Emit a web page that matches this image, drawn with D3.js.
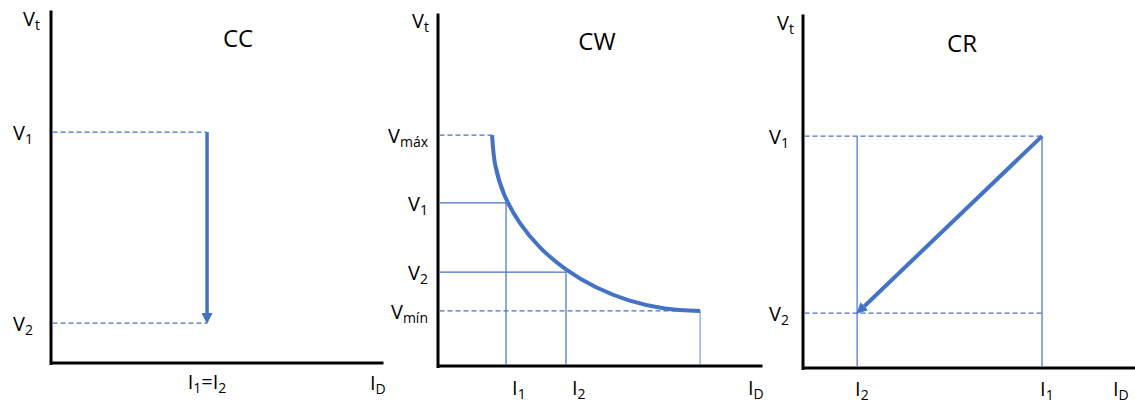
<!DOCTYPE html>
<html><head><meta charset="utf-8">
<script src="https://cdn.jsdelivr.net/npm/d3@7"></script>
<style>
body{margin:0;background:#fff}
svg{display:block}
text{font-family:'Open Sans',sans-serif;fill:#000}
</style>
</head><body>
<svg id="c" width="1135" height="403"></svg>
<script>
// ---------------- data (abstract units 0..100) ----------------
const titles = ["CC", "CW", "CR"];

// CC panel
const ccLevels = [65.4, 11.3];                 // V1, V2
const ccLevelLabels = [["V","1"], ["V","2"]];
const ccCurrent = 47;                          // I1 = I2
const ccCurrentLabel = ["I","1","=I","2"];

// CW panel
const cwLevels = [65.4, 46.2, 26.6, 15.6];     // Vmáx, V1, V2, Vmín
const cwLevelLabels = [["V","máx"], ["V","1"], ["V","2"], ["V","mín"]];
const cwCurrents = [21.0, 39.5];               // I1, I2
const cwCurrentLabels = [["I","1"], ["I","2"]];
const cwCurveI = [16.7, 17.7, 20.5, 25.3, 31.7, 39.6, 48.8, 58.9, 70.0, 80.9];
const cwCurveV = [65.4, 56.8, 48.4, 40.5, 33.4, 27.3, 22.3, 18.6, 16.3, 15.6];

// CR panel
const crLevels = [65.5, 15.5];                 // V1, V2
const crLevelLabels = [["V","1"], ["V","2"]];
const crCurrents = [72, 16.3];                 // I1, I2
const crCurrentLabels = [["I","1"], ["I","2"]];

const axisLabels = { y: ["V","t"], x: ["I","D"] };

// ---------------- drawing ----------------
const BLUE = "#4472C4";
const svg = d3.select("#c");

const defs = svg.append("defs");
defs.append("marker").attr("id","ah")
  .attr("viewBox","0 0 10 10").attr("refX",0).attr("refY",5)
  .attr("markerUnits","userSpaceOnUse").attr("markerWidth",11).attr("markerHeight",11)
  .attr("orient","auto")
  .append("path").attr("d","M0,0L10,5L0,10z").attr("fill",BLUE);

function label(g, x, y, parts, anchor, size, subSize) {
  const t = g.append("text").attr("x", x).attr("y", y)
    .attr("text-anchor", anchor).style("font-size", size + "px");
  parts.forEach((p, i) => {
    const sub = i % 2 === 1;
    const ts = t.append("tspan").text(p).style("font-size", (sub ? subSize : size) + "px");
    if (i > 0) ts.attr("dy", sub ? 4 : -4);
  });
  return t;
}

function panel(cfg) {
  const g = svg.append("g");
  const x = d3.scaleLinear().domain([0,100]).range([cfg.x0, cfg.x1]);
  const y = d3.scaleLinear().domain([0,100]).range([cfg.y0, cfg.y1]);
  g.append("g").attr("transform", `translate(${cfg.x0 - 0.5},0)`)
    .call(d3.axisLeft(y.copy().range([cfg.y0 + 1.5, cfg.y1])).tickValues([]).tickSizeOuter(0));
  g.append("g").attr("transform", `translate(0,${cfg.y0 - 0.5})`)
    .call(d3.axisBottom(x.copy().range([cfg.x0 - 1.5, cfg.x1])).tickValues([]).tickSizeOuter(0));
  g.selectAll(".domain").attr("stroke","#000").attr("stroke-width",3);
  label(g, cfg.vtX, cfg.vtY, axisLabels.y, "start", 20, 14);
  label(g, cfg.idX, cfg.y0 + cfg.xlDy, axisLabels.x, "start", 20, 14);
  g.append("text").attr("x", cfg.titleX).attr("y", cfg.titleY)
    .attr("text-anchor","middle").style("font-size","24px").text(cfg.title);
  return {g, x, y};
}

function dashed(g, x1, y1, x2, y2) {
  g.append("line").attr("x1",x1).attr("y1",y1).attr("x2",x2).attr("y2",y2)
    .attr("stroke",BLUE).attr("stroke-width",1.2).attr("stroke-dasharray","5,3");
}
function solid(g, x1, y1, x2, y2, op) {
  g.append("line").attr("x1",x1).attr("y1",y1).attr("x2",x2).attr("y2",y2)
    .attr("stroke",BLUE).attr("stroke-width",1.2).attr("opacity", op || 1);
}
function arrow(g, xa, ya, xb, yb, w) {
  const dx = xb - xa, dy = yb - ya, L = Math.hypot(dx, dy);
  const ex = xb - dx / L * 10, ey = yb - dy / L * 10;
  g.append("line").attr("x1",xa).attr("y1",ya).attr("x2",ex).attr("y2",ey)
    .attr("stroke",BLUE).attr("stroke-width",w).attr("marker-end","url(#ah)");
}

// ---- CC ----
{
  const cfg = {x0:51, x1:383, y0:363, y1:10, vtX:23, vtY:26, idX:370, xlDy:27,
               titleX:238, titleY:47, title:titles[0]};
  const {g, x, y} = panel(cfg);
  ccLevels.forEach((v, i) => {
    dashed(g, cfg.x0 + 1.5, y(v), x(ccCurrent), y(v));
    label(g, cfg.x0 - 18, y(v) + 8, ccLevelLabels[i], "end", 20, 14);
  });
  arrow(g, x(ccCurrent), y(ccLevels[0]), x(ccCurrent), y(ccLevels[1]), 3.5);
  label(g, x(ccCurrent), cfg.y0 + 26, ccCurrentLabel, "middle", 20, 14);
}

// ---- CW ----
{
  const cfg = {x0:438, x1:762, y0:366, y1:13, vtX:412, vtY:28, idX:748, xlDy:29,
               titleX:597, titleY:50, title:titles[1]};
  const {g, x, y} = panel(cfg);
  const iStart = cwCurveI[0], iEnd = cwCurveI[cwCurveI.length - 1];
  dashed(g, cfg.x0 + 1.5, y(cwLevels[0]), x(iStart), y(cwLevels[0]));
  dashed(g, cfg.x0 + 1.5, y(cwLevels[3]), x(iEnd), y(cwLevels[3]));
  [1, 2].forEach((k, j) => {
    solid(g, cfg.x0 + 1.5, y(cwLevels[k]), x(cwCurrents[j]), y(cwLevels[k]));
    solid(g, x(cwCurrents[j]), y(cwLevels[k]), x(cwCurrents[j]), cfg.y0 - 1.5);
    label(g, x(cwCurrents[j]) + 6, cfg.y0 + 29, cwCurrentLabels[j], "start", 20, 14);
  });
  solid(g, x(iEnd), y(cwLevels[3]), x(iEnd), cfg.y0 - 1.5, 0.7);
  cwLevels.forEach((v, i) => {
    label(g, cfg.x0 - 10, y(v) + 8, cwLevelLabels[i], "end", 20, 14);
  });
  const pts = cwCurveI.map((d, i) => [d, cwCurveV[i]]);
  g.append("path").datum(pts)
    .attr("d", d3.line().x(d => x(d[0])).y(d => y(d[1])).curve(d3.curveCatmullRom.alpha(0.5)))
    .attr("fill","none").attr("stroke",BLUE).attr("stroke-width",4);
}

// ---- CR ----
{
  const cfg = {x0:803, x1:1135, y0:368, y1:14, vtX:777, vtY:30, idX:1113, xlDy:28,
               titleX:962, titleY:52, title:titles[2]};
  const {g, x, y} = panel(cfg);
  crLevels.forEach((v, i) => {
    dashed(g, cfg.x0 + 1.5, y(v), x(crCurrents[0]), y(v));
    label(g, cfg.x0 - 14, y(v) + 8, crLevelLabels[i], "end", 20, 14);
  });
  crCurrents.forEach((c, i) => {
    solid(g, x(c), y(crLevels[0]), x(c), cfg.y0 - 2);
    label(g, x(c) - 2, cfg.y0 + 28, crCurrentLabels[i], "start", 20, 14);
  });
  arrow(g, x(crCurrents[0]), y(crLevels[0]), x(crCurrents[1]), y(crLevels[1]), 4);
}
</script>
</body></html>
